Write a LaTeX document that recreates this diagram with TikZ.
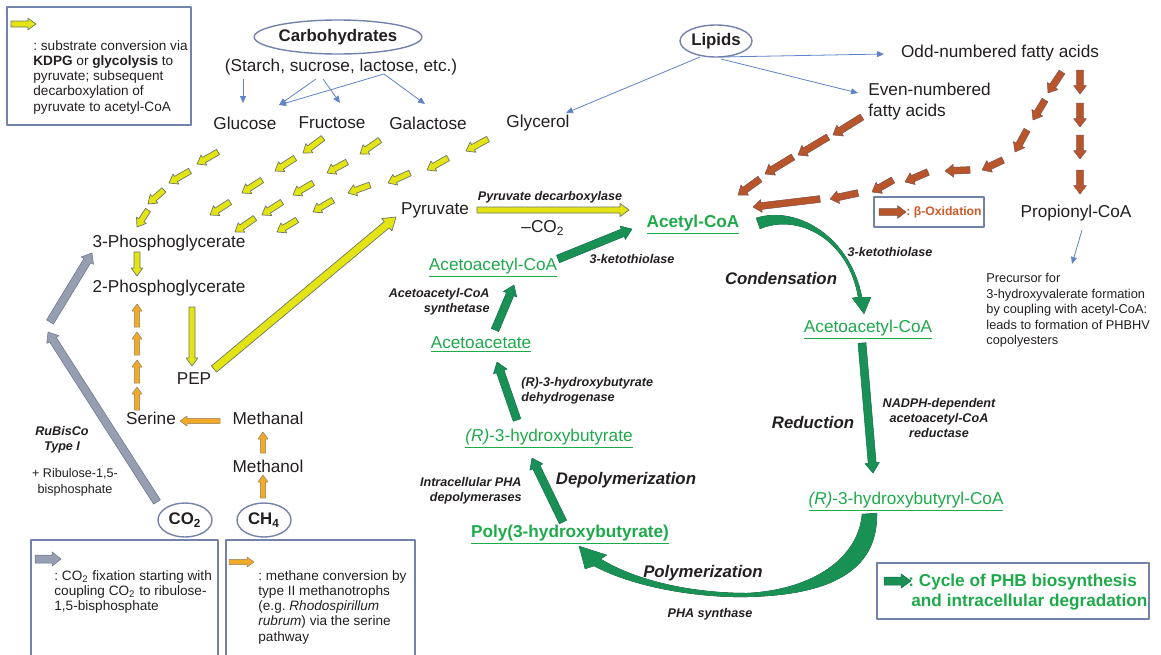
\documentclass[tikz,border=0pt]{standalone}
\usepackage{fontspec}
\setmainfont{Liberation Sans}
\usetikzlibrary{calc,arrows.meta,shapes.geometric}
\frenchspacing

\definecolor{txt}{RGB}{35,31,32}
\definecolor{yfill}{RGB}{228,228,20}
\definecolor{ydraw}{RGB}{110,120,100}
\definecolor{ofill}{RGB}{240,170,40}
\definecolor{odraw}{RGB}{150,125,90}
\definecolor{cfill}{RGB}{150,158,178}
\definecolor{cdraw}{RGB}{105,112,135}
\definecolor{bfill}{RGB}{185,85,42}
\definecolor{bdraw}{RGB}{125,80,75}
\definecolor{afill}{RGB}{25,145,85}
\definecolor{adraw}{RGB}{20,105,80}
\definecolor{amid}{RGB}{35,70,110}
\definecolor{gtext}{RGB}{30,170,75}
\definecolor{otext}{RGB}{205,90,40}
\definecolor{boxc}{RGB}{115,130,170}
\definecolor{feedc}{RGB}{95,130,200}

% block arrow: style, tail, tip, half shaft, half head, head length
\newcommand\blockarr[6]{%
  \coordinate (ba-h) at ($#3!#6!#2$);
  \filldraw[#1] ($#2!#4!90:#3$) -- ($(ba-h)!#4!90:#3$) -- ($(ba-h)!#5!90:#3$)
    -- #3 -- ($(ba-h)!#5!-90:#3$) -- ($(ba-h)!#4!-90:#3$)
    -- ($#2!#4!-90:#3$) -- cycle;}
\newcommand\yarr[2]{\blockarr{yarrow}{#1}{#2}{1.5pt}{2.9pt}{4pt}}
\newcommand\oarr[2]{\blockarr{oarrow}{#1}{#2}{1.3pt}{2.5pt}{3.5pt}}
\newcommand\barr[2]{\blockarr{barrow}{#1}{#2}{1.7pt}{3.2pt}{4.2pt}}
\newcommand\carr[2]{\blockarr{carrow}{#1}{#2}{2pt}{3.6pt}{4.5pt}}
\newcommand\garr[2]{\blockarr{garrow}{#1}{#2}{2pt}{3.6pt}{5pt}}

\begin{document}
\begin{tikzpicture}[x=0.5pt,y=-0.5pt,line join=round,
  yarrow/.style={fill=yfill,draw=ydraw,line width=0.35pt},
  oarrow/.style={fill=ofill,draw=odraw,line width=0.25pt},
  carrow/.style={fill=cfill,draw=cdraw,line width=0.25pt},
  barrow/.style={fill=bfill,draw=bdraw,line width=0.25pt},
  garrow/.style={fill=afill,draw=adraw,line width=0.25pt},
  feed/.style={draw=feedc,line width=0.4pt,-{Triangle[length=3.5pt,width=3pt]}},
  legbox/.style={draw=boxc,line width=0.7pt},
  src/.style={ellipse,draw=boxc,line width=0.7pt,inner sep=0pt,text=txt,
    font=\fontsize{8.4}{10}\selectfont\bfseries},
  lbl/.style={inner sep=0pt,text=txt,font=\fontsize{8.6}{10}\selectfont},
  cyc/.style={inner sep=0pt,text=gtext,font=\fontsize{8.6}{10}\selectfont},
  enz/.style={inner sep=0pt,text=txt,font=\fontsize{6.3}{7.6}\selectfont\bfseries\itshape},
  proc/.style={inner sep=0pt,text=txt,font=\fontsize{8.4}{10}\selectfont\bfseries\itshape},
  note/.style={inner sep=0pt,text=txt,align=left,anchor=north west,
    font=\fontsize{6.8}{7.6}\selectfont}]
\useasboundingbox (0,0) rectangle (1161,654);

% legend boxes
\draw[legbox] (7,7) rectangle (191,125);
\yarr{(11,24)}{(36,24)}
\node[note] (n1) at (33,40) {: substrate conversion via\\\textbf{KDPG} or \textbf{glycolysis} to\\pyruvate; subsequent\\decarboxylation of\\pyruvate to acetyl-CoA};
\draw[legbox] (31,660) |- (218,540) -- (218,660);
\carr{(35,559)}{(61,559)}
\node[note] (n2) at (54,570) {: CO\textsubscript{2} fixation starting with\\coupling CO\textsubscript{2} to ribulose-\\1,5-bisphosphate};
\draw[legbox] (226,660) |- (415,540) -- (415,660);
\oarr{(229,562)}{(254,562)}
\node[note] (n3) at (258,570) {: methane conversion by\\type II methanotrophs\\(e.g. \textit{Rhodospirillum}\\\textit{rubrum}) via the serine\\pathway};
\draw[legbox] (874,197) rectangle (984,227);
\barr{(879,212)}{(906,212)}
\node[inner sep=0pt,anchor=west,text=otext,font=\fontsize{6.1}{7.6}\selectfont\bfseries] (box) at (906,212) {: β-Oxidation};
\draw[legbox] (877,563) rectangle (1149,619);
\garr{(884,581)}{(911,581)}
\node[inner sep=0pt,anchor=west,text=gtext,font=\fontsize{8.6}{10}\selectfont\bfseries] (lg1) at (908,582) {: Cycle of PHB biosynthesis};
\node[inner sep=0pt,anchor=west,text=gtext,font=\fontsize{8.6}{10}\selectfont\bfseries] (lg2) at (911,602) {and intracellular degradation};

% substrates
\node[src,minimum width=77pt,minimum height=17pt] (carb) at (338,37) {Carbohydrates};
\node[lbl] (starch) at (341,67) {(Starch, sucrose, lactose, etc.)};
\node[lbl] (glc) at (245,123) {Glucose};
\node[lbl] (fru) at (332,123) {Fructose};
\node[lbl] (gal) at (428,123) {Galactose};
\node[lbl] (gly) at (538,123) {Glycerol};
\draw[feed] (243,79) -- (243,103);
\draw[feed] (316,79) -- (279,105);
\draw[feed] (323,79) -- (340,103);
\draw[feed] (384,74) -- (279,105);
\draw[feed] (384,74) -- (425,104);

\node[src,minimum width=36pt,minimum height=16pt] (lip) at (716,41) {Lipids};
\node[lbl] (odd) at (1000,53) {Odd-numbered fatty acids};
\node[lbl,anchor=west,align=left,font=\fontsize{8.6}{10.5}\selectfont] (even) at (868,102) {Even-numbered\\fatty acids};
\node[lbl] (prop) at (1076,213) {Propionyl-CoA};
\draw[feed] (721,57) -- (884,54);
\draw[feed] (721,59) -- (858,93);
\draw[feed] (700,57) -- (566,113);
\draw[feed] (1082,230) -- (1072,264);
\node[note,font=\fontsize{6.4}{7.75}\selectfont] (prec) at (986,273) {Precursor for\\3-hydroxyvalerate formation\\by coupling with acetyl-CoA:\\leads to formation of PHBHV\\copolyesters};

% beta-oxidation
\barr{(862,117)}{(833,135)}
\barr{(828,137)}{(798,155)}
\barr{(793,157)}{(765,174)}
\barr{(760,179)}{(738,195)}
\barr{(1062,72)}{(1048,93)}
\barr{(1045,100)}{(1033,120)}
\barr{(1027,130)}{(1015,152)}
\barr{(1003,160)}{(982,170)}
\barr{(970,170)}{(945,171)}
\barr{(928,172)}{(905,182)}
\barr{(893,180)}{(872,192)}
\barr{(858,193)}{(830,199)}
\barr{(820,199)}{(753,207)}
\foreach \t in {70,103,135,170}{
  \barr{(1080,\t)}{(1080,\t+24)}
}

% glycolysis
\yarr{(218,152)}{(197,164)}
\yarr{(190,171)}{(169,183)}
\yarr{(164,190)}{(148,204)}
\yarr{(148,210)}{(137,227)}
\yarr{(323,138)}{(303,153)}
\yarr{(295,158)}{(275,171)}
\yarr{(262,180)}{(242,193)}
\yarr{(230,202)}{(210,215)}
\yarr{(380,140)}{(360,154)}
\yarr{(347,162)}{(327,173)}
\yarr{(313,183)}{(293,195)}
\yarr{(282,202)}{(262,215)}
\yarr{(255,218)}{(235,232)}
\yarr{(488,139)}{(466,151)}
\yarr{(448,158)}{(427,170)}
\yarr{(410,173)}{(388,183)}
\yarr{(370,185)}{(348,193)}
\yarr{(333,200)}{(313,212)}
\yarr{(297,220)}{(277,232)}

\node[lbl] (pg3) at (169,243) {3-Phosphoglycerate};
\node[lbl] (pg2) at (169,288) {2-Phosphoglycerate};
\node[lbl] (pep) at (194,379) {PEP};
\node[lbl] (ser) at (151,418) {Serine};
\node[lbl] (mnal) at (268,418) {Methanal};
\node[lbl] (mnol) at (268,466) {Methanol};
\node[lbl] (pyr) at (435,210) {Pyruvate};
\yarr{(137,252)}{(137,276)}
\yarr{(192,307)}{(192,366)}
\blockarr{yarrow}{(214,369)}{(396,217)}{2pt}{4pt}{6pt}
\blockarr{yarrow}{(477,210)}{(629,210)}{1.5pt}{3.3pt}{4.5pt}
\node[enz] (pdc) at (550,197) {Pyruvate decarboxylase};
\node[lbl] (co2out) at (543,228) {–CO\textsubscript{2}};

% serine pathway
\foreach \t in {410,383,355,327}{
  \oarr{(137,\t)}{(137,\t-23)}
}
\oarr{(220,421)}{(180,421)}
\oarr{(263,453)}{(263,432)}
\oarr{(263,498)}{(263,475)}
\node[src,minimum width=27pt,minimum height=17pt] (co2) at (185,520) {CO\textsubscript{2}};
\node[src,minimum width=27pt,minimum height=17pt] (ch4) at (264,520) {CH\textsubscript{4}};

% CO2 fixation
\carr{(157,502)}{(48,332)}
\carr{(50,322)}{(92,253)}
\node[enz,align=center] (rub) at (62,440) {RuBisCo\\Type I};
\node[inner sep=0pt,text=txt,align=center,font=\fontsize{6.3}{7.8}\selectfont] (rbp) at (75,482) {+ Ribulose-1,5-\\bisphosphate};

% PHB cycle
\node[cyc,font=\fontsize{8.6}{10}\selectfont\bfseries] (acoa) at (693,225) {\underline{Acetyl-CoA}};
\node[cyc] (aacl) at (493,268) {\underline{Acetoacetyl-CoA}};
\node[cyc] (aac) at (481,345) {\underline{Acetoacetate}};
\node[cyc] (hb) at (549,439) {\underline{\textit{(R)}-3-hydroxybutyrate}};
\node[cyc,font=\fontsize{8.6}{10}\selectfont\bfseries] (phb) at (570,535) {\underline{Poly(3-hydroxybutyrate)}};
\node[cyc] (aacr) at (868,330) {\underline{Acetoacetyl-CoA}};
\node[cyc] (hbcoa) at (906,502) {\underline{\textit{(R)}-3-hydroxybutyryl-CoA}};

\garr{(558,259)}{(632,229)}
\garr{(495,330)}{(514,285)}
\garr{(517,420)}{(497,362)}
\garr{(563,522)}{(532,458)}
\garr{(862,343)}{(873,473)}
\fill[left color=afill,middle color=amid,right color=afill]
  (756,218) .. controls (795,205) and (850,235) .. (862,297) -- (871,297)
  -- (864,314) -- (852,298) -- (858,297)
  .. controls (848,238) and (797,213) .. (760,229) -- cycle;
\fill[left color=afill,middle color=amid,right color=afill]
  (877,513) .. controls (878,565) and (840,595) .. (747,597)
  .. controls (700,598) and (635,588) .. (594,566) -- (585,569)
  -- (579,546) -- (607,555) -- (601,559)
  .. controls (635,580) and (690,593) .. (747,593)
  .. controls (810,590) and (858,560) .. (862,514) -- cycle;

\node[enz] (kt1) at (632,259) {3-ketothiolase};
\node[enz,anchor=east,align=right] (aacs) at (490,302) {Acetoacetyl-CoA\\synthetase};
\node[enz,anchor=west,align=left] (hbdh) at (521,391) {(R)-3-hydroxybutyrate\\dehydrogenase};
\node[enz,anchor=east,align=right] (dep) at (522,491) {Intracellular PHA\\depolymerases};
\node[proc] (depo) at (626,480) {Depolymerization};
\node[proc] (cond) at (781,278) {Condensation};
\node[enz] (kt2) at (890,252) {3-ketothiolase};
\node[proc] (red) at (813,422) {Reduction};
\node[enz,align=center] (aacr2) at (939,418) {NADPH-dependent\\acetoacetyl-CoA\\reductase};
\node[proc] (poly) at (703,573) {Polymerization};
\node[enz] (phas) at (710,614) {PHA synthase};
\end{tikzpicture}
\end{document}
